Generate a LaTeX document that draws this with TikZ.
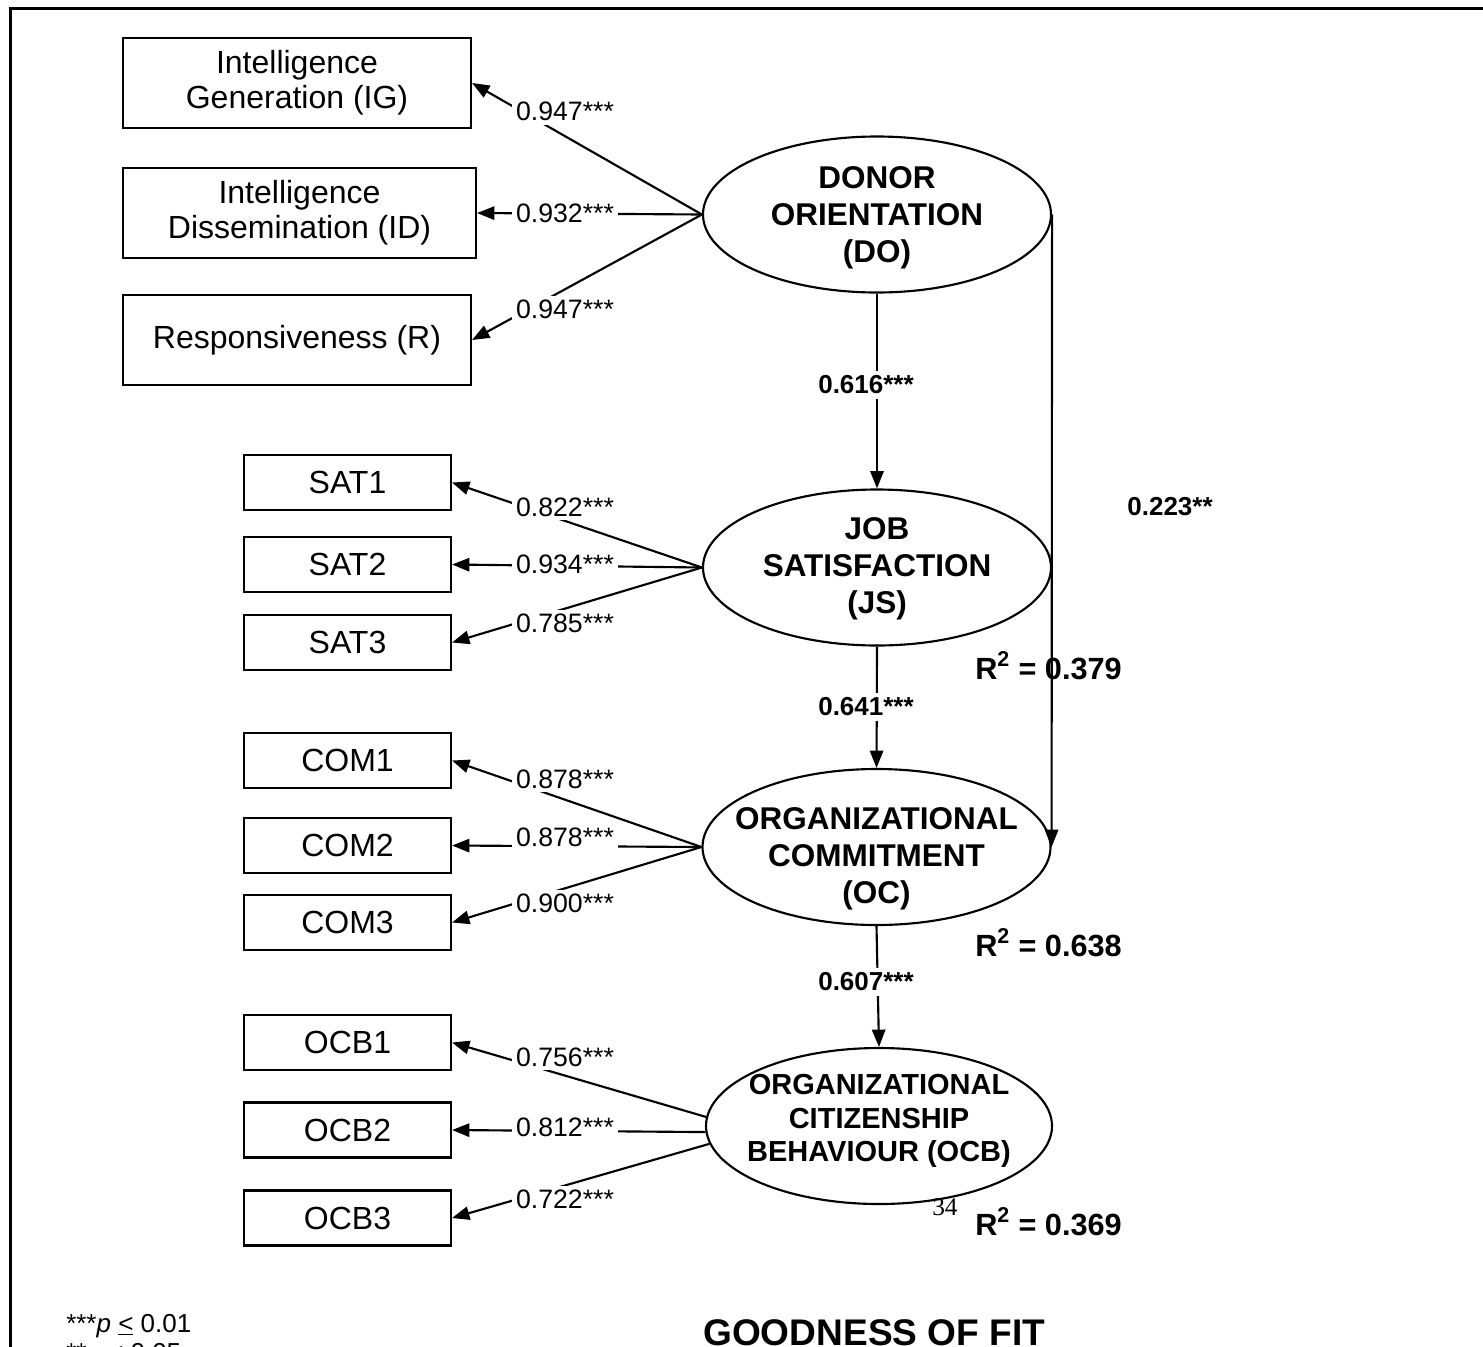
\documentclass[tikz,border=0pt]{standalone}
\usepackage{fontspec}
\setmainfont{Liberation Sans}
\newfontfamily\pagenumfont{Liberation Serif}
\usetikzlibrary{shapes.geometric,arrows.meta}

\begin{document}
\begin{tikzpicture}[x=0.75pt,y=0.75pt,yscale=-1,xscale=1,
    obs/.style={draw,line width=1.6pt,rectangle,align=center,inner sep=0pt,font=\fontsize{24}{26.5}\selectfont},
    obswide/.style={obs,minimum width=261pt,minimum height=67.5pt},
    obsitem/.style={obs,minimum width=155.25pt,minimum height=41.25pt},
    latent/.style={draw,line width=1.6pt,ellipse,minimum width=261pt,minimum height=117pt,inner sep=0pt},
    lvtxt/.style={align=center,inner sep=0pt,font=\bfseries\fontsize{23.6}{27.75}\selectfont},
    lvtxtsmall/.style={align=center,inner sep=0pt,font=\bfseries\fontsize{21.75}{25}\selectfont},
    loadarrow/.style={-{Triangle[length=13pt,width=10pt]},line width=1.6pt},
    wt/.style={fill=white,inner sep=3pt,font=\fontsize{20}{24}\selectfont},
    coef/.style={fill=white,inner sep=3.5pt,font=\bfseries\fontsize{19.5}{23}\selectfont},
    rsq/.style={anchor=base west,inner sep=0pt,font=\bfseries\fontsize{23}{27}\selectfont}]
    \useasboundingbox (0,0) rectangle (1483,1346);

    % frame
    \draw[line width=2.25pt] (10,1400) -- (10,8) -- (1550,8);

    % indicators
    \node[obswide] (IG) at (297,83) {Intelligence\\Generation (IG)};
    \node[obswide,minimum width=264.75pt] (ID) at (299.5,213) {Intelligence\\Dissemination (ID)};
    \node[obswide] (R) at (297,340) {Responsiveness (R)};
    \node[obsitem] (SAT1) at (347.5,482.5) {SAT1};
    \node[obsitem] (SAT2) at (347.5,564.5) {SAT2};
    \node[obsitem] (SAT3) at (347.5,642.5) {SAT3};
    \node[obsitem] (COM1) at (347.5,760.5) {COM1};
    \node[obsitem] (COM2) at (347.5,845.5) {COM2};
    \node[obsitem] (COM3) at (347.5,922.5) {COM3};
    \node[obsitem] (OCB1) at (347.5,1042.5) {OCB1};
    \node[obsitem] (OCB2) at (347.5,1130) {OCB2};
    \node[obsitem] (OCB3) at (347.5,1218) {OCB3};

    % latent variables
    \node[latent,label={[lvtxt,yshift=-2.25pt]center:{DONOR\\ORIENTATION\\(DO)}}] (DO) at (877,214.5) {};
    \node[latent,label={[lvtxt,yshift=-0.75pt]center:{JOB\\SATISFACTION\\(JS)}}] (JS) at (877,567.5) {};
    \node[latent,label={[lvtxt,yshift=-9pt]center:{ORGANIZATIONAL\\COMMITMENT\\(OC)}}] (OC) at (876.5,847) {};
    \node[latent,minimum width=259.5pt,label={[lvtxtsmall,yshift=3.75pt]center:{ORGANIZATIONAL\\CITIZENSHIP\\BEHAVIOUR (OCB)}}] (OCB) at (879,1126) {};

    % loadings
    \draw[loadarrow] (DO.west) -- (IG.east);
    \draw[loadarrow] (DO.west) -- (ID.east);
    \draw[loadarrow] (DO.west) -- (R.east);
    \draw[loadarrow] (JS.west) -- (SAT1.east);
    \draw[loadarrow] (JS.west) -- (SAT2.east);
    \draw[loadarrow] (JS.west) -- (SAT3.east);
    \draw[loadarrow] (OC.west) -- (COM1.east);
    \draw[loadarrow] (OC.west) -- (COM2.east);
    \draw[loadarrow] (OC.west) -- (COM3.east);
    \draw[loadarrow] (OCB.177) -- (OCB1.east);
    \draw[loadarrow] (OCB.182) -- (OCB2.east);
    \draw[loadarrow] (OCB.186) -- (OCB3.east);

    % structural paths
    \draw[loadarrow] (DO.south) -- (JS.north);
    \draw[loadarrow] (JS.south) -- (OC.north);
    \draw[loadarrow] (OC.south) -- (OCB.north);
    \draw[loadarrow] (DO.east) -- (OC.east);

    % Text Node
    \node[wt] (lIG) at (565,111.5) {0.947***};
    \node[wt] (lID) at (565,213.5) {0.932***};
    \node[wt] (lR) at (565,309.5) {0.947***};
    \node[wt] (lS1) at (565,507) {0.822***};
    \node[wt] (lS2) at (565,564) {0.934***};
    \node[wt] (lS3) at (565,623.5) {0.785***};
    \node[wt] (lC1) at (565,779) {0.878***};
    \node[wt] (lC2) at (565,837) {0.878***};
    \node[wt] (lC3) at (565,903) {0.900***};
    \node[wt] (lB1) at (565,1057) {0.756***};
    \node[wt] (lB2) at (565,1127) {0.812***};
    \node[wt] (lB3) at (565,1199.5) {0.722***};

    % Text Node
    \node[coef] (cDOJS) at (866,385) {0.616***};
    \node[coef] (cJSOC) at (866,707) {0.641***};
    \node[coef] (cOCOCB) at (866,982) {0.607***};
    \node[coef,fill=none] (cDOOC) at (1170,507) {0.223**};

    % Text Node
    \node[rsq] (rJS) at (975,679) {R\textsuperscript{2} = 0.379};
    \node[rsq] (rOC) at (975,956) {R\textsuperscript{2} = 0.638};
    \node[rsq] (rOCB) at (975,1235) {R\textsuperscript{2} = 0.369};

    \node[anchor=base west,inner sep=0pt,font=\pagenumfont\fontsize{19}{22}\selectfont] (pgnum) at (932,1215) {34};
    \node[anchor=base west,inner sep=0pt,font=\bfseries\fontsize{27.8}{32}\selectfont] (gof) at (703,1345) {GOODNESS OF FIT};
    \node[anchor=base west,inner sep=0pt,font=\fontsize{19.5}{22}\selectfont] (pv1) at (66,1332) {***\textit{p} \underline{<} 0.01};
    \node[anchor=base west,inner sep=0pt,font=\fontsize{19.5}{22}\selectfont] (pv2) at (66,1361) {**\textit{p} \underline{<} 0.05};
\end{tikzpicture}
\end{document}
